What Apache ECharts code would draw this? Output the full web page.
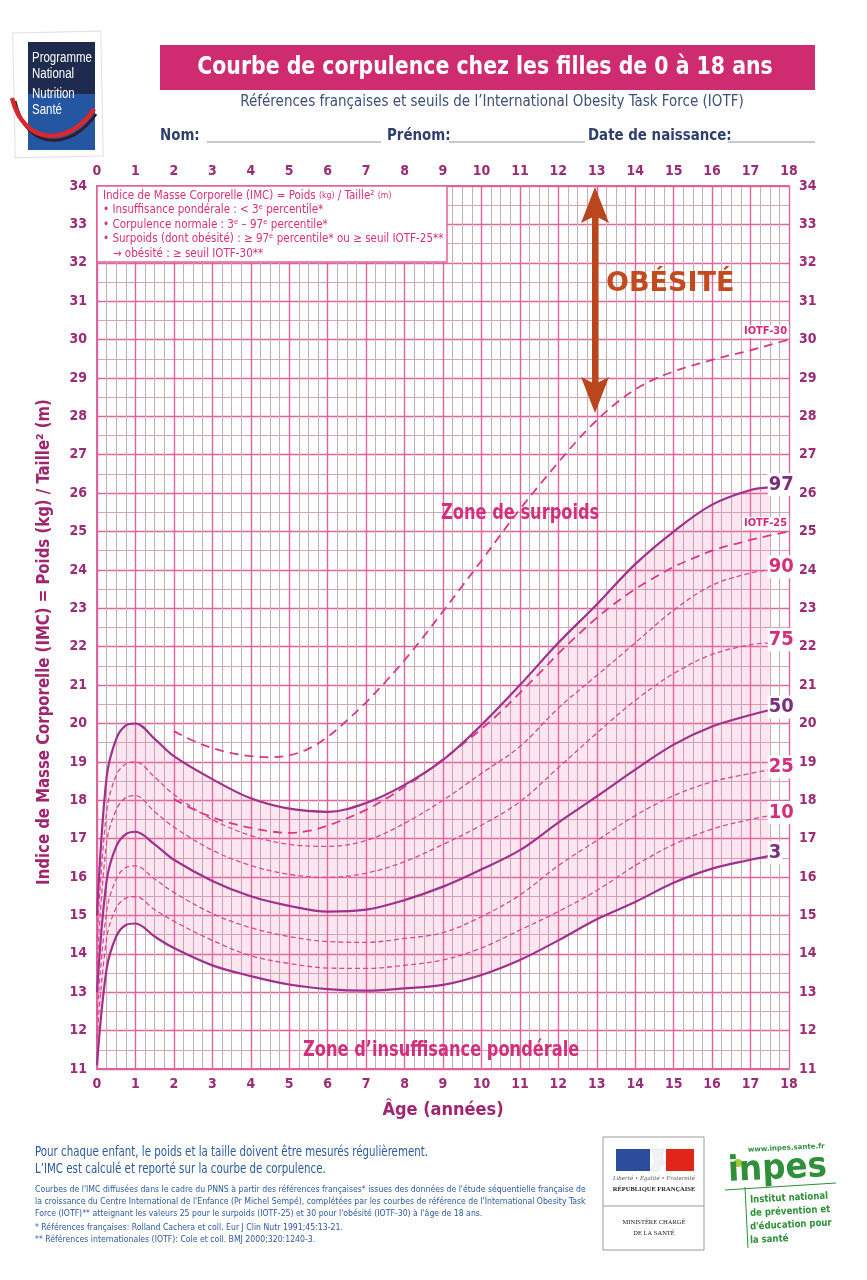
<!DOCTYPE html>
<html><head><meta charset="utf-8">
<script src="https://cdn.jsdelivr.net/npm/echarts@6/dist/echarts.min.js"></script>
<style>html,body{margin:0;padding:0;background:#fff}#c{width:867px;height:1280px}</style>
</head><body><div id="c"></div>
<script>
// ---------- DATA ----------
const ages = [0,0.25,0.5,0.75,1,1.5,2,3,4,5,6,7,8,9,10,11,12,13,14,15,16,17,17.5];
const p97 = [15.0,18.6,19.6,19.95,20.0,19.6,19.15,18.55,18.05,17.78,17.7,17.93,18.4,19.05,19.96,21.0,22.1,23.1,24.15,25.0,25.7,26.08,26.15];
const p90 = [14.4,17.7,18.65,18.95,19.0,18.6,18.15,17.5,17.08,16.85,16.8,16.95,17.4,18.0,18.7,19.4,20.4,21.25,22.1,22.95,23.6,23.92,24.0];
const p75 = [13.7,16.9,17.75,18.07,18.12,17.7,17.3,16.7,16.3,16.07,15.99,16.1,16.4,16.85,17.35,17.96,18.85,19.75,20.6,21.3,21.8,22.05,22.1];
const p50 = [13.0,15.9,16.8,17.12,17.18,16.85,16.45,15.9,15.5,15.25,15.1,15.15,15.4,15.75,16.2,16.7,17.42,18.1,18.8,19.45,19.92,20.22,20.35];
const p25 = [12.4,15.1,15.95,16.25,16.29,15.95,15.6,15.05,14.68,14.45,14.32,14.3,14.4,14.55,14.97,15.53,16.3,16.95,17.6,18.12,18.48,18.7,18.79];
const p10 = [11.8,14.4,15.2,15.45,15.49,15.15,14.85,14.35,13.95,13.75,13.63,13.62,13.7,13.84,14.15,14.62,15.1,15.65,16.3,16.85,17.25,17.5,17.6];
const p3  = [11.1,13.6,14.45,14.75,14.79,14.45,14.15,13.7,13.42,13.2,13.08,13.04,13.1,13.19,13.45,13.84,14.35,14.9,15.35,15.85,16.22,16.45,16.55];

const iotfAges = [2,2.5,3,3.5,4,4.5,5,5.5,6,6.5,7,7.5,8,8.5,9,9.5,10,10.5,11,11.5,12,12.5,13,13.5,14,14.5,15,15.5,16,16.5,17,17.5,18];
const iotf25 = [18.03,17.77,17.56,17.40,17.28,17.19,17.15,17.20,17.34,17.53,17.75,18.03,18.35,18.69,19.07,19.45,19.86,20.3,20.8,21.3,21.82,22.3,22.75,23.15,23.5,23.8,24.08,24.3,24.5,24.65,24.78,24.9,25.0];
const iotf30 = [19.80,19.55,19.36,19.23,19.15,19.12,19.17,19.34,19.65,20.08,20.55,21.08,21.65,22.27,22.92,23.58,24.24,24.92,25.58,26.2,26.8,27.38,27.9,28.34,28.7,28.97,29.17,29.33,29.47,29.6,29.72,29.86,30.0];

const xMin = 0, xMax = 18, yMin = 11, yMax = 34;
const pctLabels = {p97:'97', p90:'90', p75:'75', p50:'50', p25:'25', p10:'10', p3:'3'};

// ---------- STYLE ----------
const NARROW = "'Liberation Sans Narrow','DejaVu Sans Condensed',sans-serif";
const labCol = '#9a2b75';
const solidCol = '#a0318a';
const dashCol = '#dc4790';
const iotfCol = '#d9388a';
const majorGrid = '#e0649c';
const SM = 0.35;

function pairs(xs, ys){ return xs.map((x,i)=>[x, ys[i]]); }
const bandDiff = p97.map((v,i)=>+(v - p3[i]).toFixed(3));

function pctSeries(key, data, solid, txtCol){
  return {
    type:'line', name:key, data:pairs(ages, data), smooth:SM, symbol:'none', z:4,
    lineStyle: solid ? {color:solidCol, width:2.2} : {color:dashCol, width:1.3, type:[5,3]},
    endLabel:{show:true, formatter:pctLabels[key], distance:0, offset:[-2,-3],
      color:txtCol, fontSize:20, fontWeight:'bold', fontFamily:NARROW, backgroundColor:'#fff', padding:[1,1,0,1], lineHeight:22},
    emphasis:{disabled:true}, silent:true
  };
}
function iotfSeries(name, data){
  return {
    type:'line', name:name, data:pairs(iotfAges, data), smooth:SM, symbol:'none', z:4,
    lineStyle:{color:iotfCol, width:1.8, type:[9,6]},
    endLabel:{show:true, formatter:name, distance:0, offset:[-47,-8],
      color:'#d02a78', fontSize:11, fontWeight:'bold', fontFamily:NARROW, backgroundColor:'#fff', padding:[1,2]},
    emphasis:{disabled:true}, silent:true
  };
}

const xAxisBase = {
  type:'value', min:xMin, max:xMax, interval:1,
  axisLine:{show:true, lineStyle:{color:majorGrid, width:2}},
  axisTick:{show:false},
  axisLabel:{color:labCol, fontSize:14, fontWeight:'bold', fontFamily:NARROW, margin:8},
  minorTick:{show:false, splitNumber:4}
};
const yAxisBase = {
  type:'value', min:yMin, max:yMax, interval:1,
  axisLine:{show:true, lineStyle:{color:majorGrid, width:2}},
  axisTick:{show:false},
  axisLabel:{color:labCol, fontSize:14, fontWeight:'bold', fontFamily:NARROW, margin:10},
  minorTick:{show:false, splitNumber:2}
};

const chart = echarts.init(document.getElementById('c'));
const G = [];
function txt(x,y,text,style,extra){ G.push(Object.assign({type:'text', x:x, y:y, z:20, style:Object.assign({text:text}, style)}, extra||{})); }
function rect(x,y,w,h,style,extra){ G.push(Object.assign({type:'rect', z:15, shape:{x:x,y:y,width:w,height:h}, style:style}, extra||{})); }
function line(x1,y1,x2,y2,style){ G.push({type:'line', z:15, shape:{x1:x1,y1:y1,x2:x2,y2:y2}, style:style}); }

// PNNS logo
rect(14,32,88,125,{fill:'#fff', stroke:'#e2e2e2', lineWidth:1},{rotation:0.02, originX:58, originY:94});
rect(28,42,67,52,{fill:'#1e2b4e'});
rect(28,94,67,56,{fill:'#2456a2'});
const logoFont = "14px 'Liberation Sans','DejaVu Sans',sans-serif";
txt(32,51,'Programme',{fill:'#fff', font:logoFont},{scaleX:0.82});
txt(32,67,'National',{fill:'#fff', font:logoFont},{scaleX:0.82});
txt(32,87,'Nutrition',{fill:'#fff', font:logoFont},{scaleX:0.82});
txt(32,103,'Santé',{fill:'#fff', font:logoFont},{scaleX:0.82});
G.push({type:'bezierCurve', z:16, shape:{x1:15,y1:101,x2:96,y2:114,cpx1:26,cpy1:152,cpx2:72,cpy2:150}, style:{stroke:'#2a2030', lineWidth:3, fill:null}});
G.push({type:'bezierCurve', z:17, shape:{x1:12,y1:98,x2:94,y2:109,cpx1:24,cpy1:147,cpx2:70,cpy2:146}, style:{stroke:'#d8282d', lineWidth:4.5, fill:null}});

// Title banner
rect(160,45,655,45,{fill:'#cf2b70'});
txt(485,67,'Courbe de corpulence chez les filles de 0 à 18 ans',{fill:'#fff', font:"bold 25px "+NARROW, textAlign:'center', textVerticalAlign:'middle'},{scaleX:0.91});
txt(492,102,"Références françaises et seuils de l’International Obesity Task Force (IOTF)",{fill:'#3d4f78', font:"15px "+NARROW, textAlign:'center', textVerticalAlign:'middle'});
const fieldFont = "bold 16px "+NARROW;
const fs = 0.93;
txt(160,136,'Nom:',{fill:'#2e3f6e', font:fieldFont, textVerticalAlign:'middle'},{scaleX:fs});
line(207,142,381,142,{stroke:'#8a93aa', lineWidth:1});
txt(387,136,'Prénom:',{fill:'#2e3f6e', font:fieldFont, textVerticalAlign:'middle'},{scaleX:fs});
line(449,142,585,142,{stroke:'#8a93aa', lineWidth:1});
txt(588,136,'Date de naissance:',{fill:'#2e3f6e', font:fieldFont, textVerticalAlign:'middle'},{scaleX:fs});
line(728,142,815,142,{stroke:'#8a93aa', lineWidth:1});

// Legend box inside plot
rect(97,186,350,76,{fill:'#fff', stroke:'#e0649c', lineWidth:1.5});
const legCol = '#d6307a';
const legS = 0.96;
G.push({type:'text', z:20, x:103, y:190, scaleX:legS, style:{
  text:'{a|Indice de Masse Corporelle (IMC) = Poids }{s|(kg)}{a| / Taille² }{s|(m)}',
  rich:{a:{fill:legCol, font:"12px "+NARROW}, s:{fill:legCol, font:"9px "+NARROW}}}});
const legLines = ['• Insuffisance pondérale : < 3ᵉ percentile*','• Corpulence normale : 3ᵉ – 97ᵉ percentile*','• Surpoids (dont obésité) : ≥ 97ᵉ percentile* ou ≥ seuil IOTF-25**','   → obésité : ≥ seuil IOTF-30**'];
legLines.forEach((t,i)=>txt(103,204+i*14.5,t,{fill:legCol, font:"12px "+NARROW},{scaleX:legS}));

// OBESITE arrow
const arrowCol = '#b9461d';
rect(592,215,6.5,170,{fill:arrowCol});
G.push({type:'polygon', z:16, shape:{points:[[595,187],[581,223],[595,216],[609,223]]}, style:{fill:arrowCol}});
G.push({type:'polygon', z:16, shape:{points:[[595,413],[581,377],[595,384],[609,377]]}, style:{fill:arrowCol}});
txt(606,284,'OBÉSITÉ',{fill:'#c24a1e', font:"bold 27px 'DejaVu Sans',sans-serif", textVerticalAlign:'middle'});

// Zone texts
txt(441,513,'Zone de surpoids',{fill:'#d42f7c', font:"bold 22px "+NARROW, textVerticalAlign:'middle'},{scaleX:0.82});
txt(303,1050,'Zone d’insuffisance pondérale',{fill:'#d42f7c', font:"bold 22px "+NARROW, textVerticalAlign:'middle'},{scaleX:0.82});

// Axis titles
txt(443,1110,'Âge (années)',{fill:'#a0256f', font:"bold 18px "+NARROW, textAlign:'center', textVerticalAlign:'middle'});
G.push({type:'text', z:20, x:45, y:642, rotation:Math.PI/2, scaleX:0.975, style:{text:'Indice de Masse Corporelle (IMC) = Poids (kg) / Taille² (m)', fill:'#a0256f', font:"bold 17px "+NARROW, textAlign:'center', textVerticalAlign:'middle'}});

// Footer
const fCol = '#2d5a9e';
txt(35,1152,'Pour chaque enfant, le poids et la taille doivent être mesurés régulièrement.',{fill:fCol, font:"14px "+NARROW, textVerticalAlign:'middle'},{scaleX:0.815});
txt(35,1169,'L’IMC est calculé et reporté sur la courbe de corpulence.',{fill:fCol, font:"14px "+NARROW, textVerticalAlign:'middle'},{scaleX:0.815});
const small = ["Courbes de l'IMC diffusées dans le cadre du PNNS à partir des références françaises* issues des données de l'étude séquentielle française de",
"la croissance du Centre International de l'Enfance (Pr Michel Sempé), complétées par les courbes de référence de l'International Obesity Task",
"Force (IOTF)** atteignant les valeurs 25 pour le surpoids (IOTF-25) et 30 pour l'obésité (IOTF-30) à l'âge de 18 ans."];
small.forEach((t,i)=>txt(35,1190+i*12,t,{fill:fCol, font:"9px "+NARROW, textVerticalAlign:'middle'},{scaleX:0.96}));
txt(35,1228,'* Références françaises: Rolland Cachera et coll. Eur J Clin Nutr 1991;45:13-21.',{fill:fCol, font:"9px "+NARROW, textVerticalAlign:'middle'},{scaleX:0.96});
txt(35,1240,'** Références internationales (IOTF): Cole et coll. BMJ 2000;320:1240-3.',{fill:fCol, font:"9px "+NARROW, textVerticalAlign:'middle'},{scaleX:0.96});

// Republique francaise logo
rect(603,1137,101,113,{fill:'#fff', stroke:'#9a9a9a', lineWidth:1});
line(603,1206,704,1206,{stroke:'#9a9a9a', lineWidth:1});
rect(616,1149,34,22,{fill:'#2b4d9b'});
rect(666,1149,28,22,{fill:'#e1251b'});
G.push({type:'polygon', z:16, shape:{points:[[652,1149],[664,1149],[662,1158],[666,1163],[660,1166],[659,1171],[650,1171],[655,1162]]}, style:{fill:'#f2f2f2', stroke:'#ddd', lineWidth:0.5}});
txt(654,1179,'Liberté • Égalité • Fraternité',{fill:'#555', font:"italic 5.5px 'DejaVu Serif',serif", textAlign:'center', textVerticalAlign:'middle'});
txt(654,1189,'RÉPUBLIQUE FRANÇAISE',{fill:'#222', font:"bold 6.5px 'Liberation Serif',serif", textAlign:'center', textVerticalAlign:'middle'});
txt(654,1222,'MINISTÈRE CHARGÉ',{fill:'#222', font:"6.5px 'Liberation Serif',serif", textAlign:'center', textVerticalAlign:'middle'});
txt(654,1233,'DE LA SANTÉ',{fill:'#222', font:"6.5px 'Liberation Serif',serif", textAlign:'center', textVerticalAlign:'middle'});

// INPES logo
const green = '#2f8f3a';
G.push({type:'circle', z:16, shape:{cx:738,cy:1163,r:4}, style:{fill:'#a9c63a'}});
txt(748,1150,'www.inpes.sante.fr',{fill:green, font:"bold 7px 'DejaVu Sans',sans-serif", textVerticalAlign:'middle'},{rotation:0.05});
txt(728,1172,'inpes',{fill:green, font:"bold 35px 'DejaVu Sans',sans-serif", textVerticalAlign:'middle'},{rotation:0.05, scaleX:0.93});
line(725,1190,836,1183,{stroke:green, lineWidth:1});
line(745,1187,748,1248,{stroke:green, lineWidth:1});
['Institut national','de prévention et',"d'éducation pour",'la santé'].forEach((t,i)=>txt(750,1200+i*13.5,t,{fill:green, font:"bold 10px 'DejaVu Sans Condensed',sans-serif", textVerticalAlign:'middle'},{rotation:0.05, scaleX:0.95}));

chart.setOption({
  animation:false,
  backgroundColor:'#fff',
  grid:{left:97, top:186, width:692, height:883, containLabel:false},
  xAxis:[
    Object.assign({}, xAxisBase, {position:'bottom',
      splitLine:{show:true, lineStyle:{color:majorGrid, width:1.4}},
      minorSplitLine:{show:true, lineStyle:{color:'#c7aeb0', width:1}}}),
    Object.assign({}, xAxisBase, {position:'top', splitLine:{show:false}})
  ],
  yAxis:[
    Object.assign({}, yAxisBase, {position:'left',
      splitLine:{show:true, lineStyle:{color:majorGrid, width:1.4}},
      minorSplitLine:{show:true, lineStyle:{color:'#d4a6ba', width:1}}}),
    Object.assign({}, yAxisBase, {position:'right', splitLine:{show:false}})
  ],
  series:[
    // normal-corpulence band P3..P97 (value dimension first so it is the stacked one)
    {type:'line', name:'base', data:ages.map((a,i)=>[p3[i], a]), encode:{x:1, y:0}, stack:'band', smooth:SM, symbol:'none', lineStyle:{opacity:0}, z:2, silent:true},
    {type:'line', name:'band', data:ages.map((a,i)=>[bandDiff[i], a]), encode:{x:1, y:0}, stack:'band', smooth:SM, symbol:'none', lineStyle:{opacity:0}, areaStyle:{color:'rgba(240,120,175,0.26)'}, z:2, silent:true},
    iotfSeries('IOTF-30', iotf30),
    iotfSeries('IOTF-25', iotf25),
    pctSeries('p97', p97, true, '#7b2d80'),
    pctSeries('p90', p90, false, '#d42f7c'),
    pctSeries('p75', p75, false, '#d42f7c'),
    pctSeries('p50', p50, true, '#7b2d80'),
    pctSeries('p25', p25, false, '#d42f7c'),
    pctSeries('p10', p10, false, '#d42f7c'),
    pctSeries('p3', p3, true, '#7b2d80')
  ],
  graphic:{elements:G}
});
</script></body></html>
